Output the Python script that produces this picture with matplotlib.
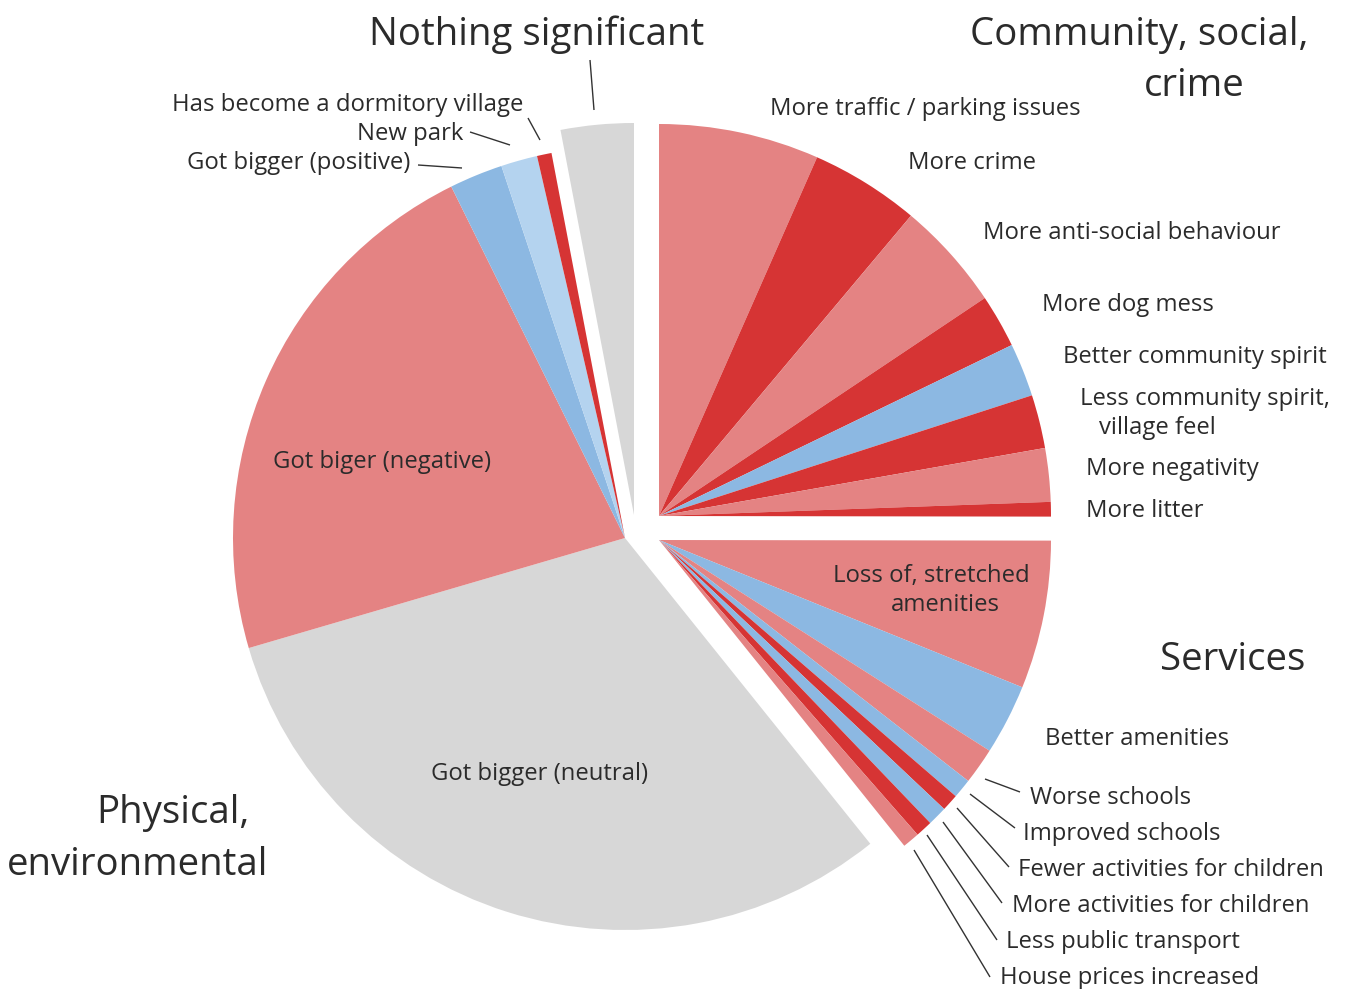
import matplotlib
matplotlib.use("Agg")
import matplotlib.pyplot as plt

# Share of responses (%) per reported change, listed clockwise from 12 o'clock
community_items = [
    "More traffic / parking issues", "More crime", "More anti-social behaviour",
    "More dog mess", "Better community spirit", "Less community spirit, village feel",
    "More negativity", "More litter",
]
community_values = [6.6, 4.5, 4.5, 2.2, 2.2, 2.2, 2.2, 0.6]

services_items = [
    "Loss of, stretched amenities", "Better amenities", "Worse schools",
    "Improved schools", "Fewer activities for children",
    "More activities for children", "Less public transport", "House prices increased",
]
services_values = [6.1, 2.9, 1.5, 0.8, 0.7, 0.8, 0.7, 0.7]

physical_items = [
    "Got bigger (neutral)", "Got biger (negative)", "Got bigger (positive)",
    "New park", "Has become a dormitory village",
]
physical_values = [31.2, 22.2, 2.2, 1.5, 0.6]

nothing_items = ["Nothing significant"]
nothing_values = [3.0]

# colours
PINK = "#e48383"
RED = "#d63434"
BLUE = "#8cb8e2"
LBLUE = "#b4d3ef"
GREY = "#d7d7d7"

community_colors = [PINK, RED, PINK, RED, BLUE, RED, PINK, RED]
services_colors = [PINK, BLUE, PINK, BLUE, RED, BLUE, RED, PINK]
physical_colors = [GREY, PINK, BLUE, LBLUE, RED]
nothing_colors = [GREY]

W, H = 1347, 989
R = 392

plt.rcParams["font.family"] = ["Open Sans", "DejaVu Sans"]

fig = plt.figure(figsize=(W / 100, H / 100), dpi=100)
ax = fig.add_axes([0, 0, 1, 1])

all_values = community_values + services_values + physical_values + nothing_values
groups = [
    (community_colors, 0, (659, 516)),
    (services_colors, len(community_values), (659, 540)),
    (physical_colors, len(community_values) + len(services_values), (625, 538)),
    (nothing_colors, len(all_values) - 1, (634, 515)),
]

# each group is its own pie (same start angle), only its wedges coloured,
# drawn at a shifted centre so the groups look pulled apart
for colors, start, (cx, cy) in groups:
    cols = ["none"] * len(all_values)
    cols[start:start + len(colors)] = colors
    ax.pie(all_values, colors=cols, startangle=90, counterclock=False,
           center=(cx, H - cy), radius=R,
           wedgeprops=dict(linewidth=0))

TXT = "#2b2b2b"
LINE = "#333333"
FS = 17.2
FT = 27.6


def txt(x, y, s, ha="left", size=FS):
    dy = 3 if size == FT else 2
    ax.text(x, H - y - dy, s, ha=ha, va="center", fontsize=size, color=TXT)


def leader(x0, y0, x1, y1):
    ax.plot([x0, x1], [H - y0, H - y1], color=LINE, lw=1.0, solid_capstyle="butt")


# group titles
txt(537, 32, "Nothing significant", ha="center", size=FT)
txt(1139, 32, "Community, social,", ha="center", size=FT)
txt(1194, 83, "crime", ha="center", size=FT)
txt(1233, 657, "Services", ha="center", size=FT)
txt(173, 810, "Physical,", ha="center", size=FT)
txt(138, 862, "environmental", ha="center", size=FT)
leader(590, 60, 594, 110)

# community labels
txt(770, 107, community_items[0])
txt(908, 161, community_items[1])
txt(983, 231, community_items[2])
txt(1042, 303, community_items[3])
txt(1063, 355, community_items[4])
txt(1080, 397, "Less community spirit,")
txt(1099, 426, "village feel")
txt(1086, 467, community_items[6])
txt(1086, 509, community_items[7])

# services labels
txt(1030, 574, "Loss of, stretched", ha="right")
txt(1000, 603, "amenities", ha="right")
txt(1045, 737, services_items[1])
small = [
    (services_items[2], 1030, 796, (985, 779, 1020, 792)),
    (services_items[3], 1023, 832, (970, 794, 1015, 828)),
    (services_items[4], 1018, 868, (957, 808, 1009, 867)),
    (services_items[5], 1012, 904, (943, 822, 1002, 903)),
    (services_items[6], 1006, 940, (927, 835, 997, 940)),
    (services_items[7], 1000, 976, (914, 850, 990, 977)),
]
for label, x, y, seg in small:
    txt(x, y, label)
    leader(*seg)

# physical labels
txt(540, 772, physical_items[0], ha="center")
txt(382, 460, physical_items[1], ha="center")
txt(410, 161, physical_items[2], ha="right")
leader(418, 165, 462, 168)
txt(463, 132, physical_items[3], ha="right")
leader(470, 132, 510, 145)
txt(523, 103, physical_items[4], ha="right")
leader(528, 118, 540, 140)

ax.set_xlim(0, W)
ax.set_ylim(0, H)
ax.set_aspect("equal")
ax.axis("off")

fig.savefig("out.png", dpi=100, facecolor="white")
